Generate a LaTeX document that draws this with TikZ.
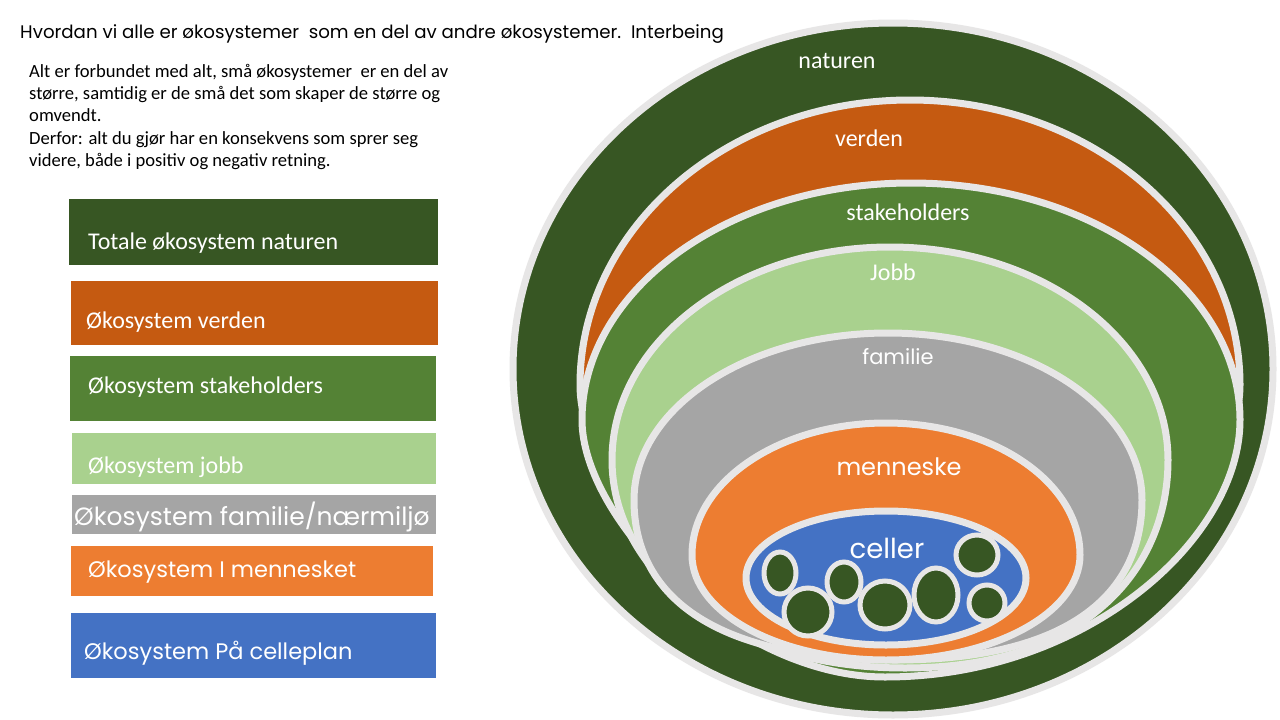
\documentclass[tikz,border=0pt]{standalone}
\usepackage{fontspec}
\setmainfont{Carlito}
\newfontfamily\poppins{Poppins}
\definecolor{natc}{HTML}{375623}
\definecolor{verc}{HTML}{C55A11}
\definecolor{stkc}{HTML}{548235}
\definecolor{jobc}{HTML}{A9D18E}
\definecolor{famc}{HTML}{A5A5A5}
\definecolor{menc}{HTML}{ED7D31}
\definecolor{celc}{HTML}{4472C4}
\definecolor{rimc}{HTML}{E7E6E6}

\begin{document}
\begin{tikzpicture}[x=1pt, y=-1pt,
  ring/.style={draw=rimc, line width=7pt},
  cell/.style={draw=rimc, line width=5pt, fill=natc},
  box/.style={rectangle, inner sep=0pt, anchor=north west},
  boxtext/.style={anchor=base west, inner sep=0pt, text=white, font=\fontsize{24}{28}\selectfont},
  poptext/.style={anchor=base west, inner sep=0pt, text=white, font=\poppins\fontsize{22.5}{26}\selectfont},
  ringtext/.style={anchor=base, inner sep=0pt, text=white, font=\fontsize{24}{28}\selectfont},
  ringpop/.style={anchor=base, inner sep=0pt, text=white, font=\poppins\fontsize{21}{26}\selectfont}]

  \useasboundingbox[fill=white] (0,0) rectangle (1280,720);

  % title and intro
  \node[anchor=base west, inner sep=0pt, font=\poppins\fontsize{18.2}{22}\selectfont] (title) at (20,38)
    {Hvordan vi alle er økosystemer\ \ som en del av andre økosystemer.\ \ Interbeing};
  \node[anchor=north west, inner sep=0pt, align=left, font=\fontsize{18.6}{22.3}\selectfont] (intro) at (29,64)
    {Alt er forbundet med alt, små økosystemer\ \ er en del av\\
     større, samtidig er de små det som skaper de større og\\
     omvendt.\\
     Derfor: alt du gjør har en konsekvens som sprer seg\\
     videre, både i positiv og negativ retning.};

  % legend boxes
  \node[box, fill=natc, minimum width=369, minimum height=66] (bnat) at (69,199) {};
  \node[box, fill=verc, minimum width=367, minimum height=64] (bver) at (71,281) {};
  \node[box, fill=stkc, minimum width=366, minimum height=65] (bstk) at (70,356) {};
  \node[box, fill=jobc, minimum width=364, minimum height=51] (bjob) at (72,433) {};
  \node[box, fill=famc, minimum width=364, minimum height=39] (bfam) at (72,495) {};
  \node[box, fill=menc, minimum width=362, minimum height=50] (bmen) at (71,546) {};
  \node[box, fill=celc, minimum width=365, minimum height=65] (bcel) at (71,613) {};

  \node[boxtext] (tnat) at (88,249) {Totale økosystem naturen};
  \node[boxtext] (tver) at (86,328) {Økosystem verden};
  \node[boxtext] (tstk) at (88,393) {Økosystem stakeholders};
  \node[boxtext] (tjob) at (88,473) {Økosystem jobb};
  \node[poptext, font=\poppins\fontsize{25}{28}\selectfont] (tfam) at (74,525) {Økosystem familie/nærmiljø};
  \node[poptext] (tmen) at (88,577) {Økosystem I mennesket};
  \node[poptext] (tcel) at (84,659) {Økosystem På celleplan};

  % nested ecosystems
  \path[ring, fill=natc] (893,369) ellipse[x radius=380, y radius=346];
  \path[ring, fill=verc] (580,385) arc[start angle=180, end angle=360, x radius=330, y radius=285]
    .. controls (1240,500) and (1060,640) .. (905,640)
    .. controls (750,640) and (580,500) .. (580,385) -- cycle;
  \path[ring, fill=stkc] (582,420) arc[start angle=180, end angle=360, x radius=329, y radius=237]
    .. controls (1240,540) and (1085,677) .. (885,677)
    .. controls (735,677) and (582,520) .. (582,420) -- cycle;
  \path[ring, fill=jobc] (612,460) arc[start angle=180, end angle=360, x radius=278, y radius=213]
    .. controls (1168,570) and (1085,668) .. (905,668)
    .. controls (725,668) and (612,570) .. (612,460) -- cycle;
  \path[ring, fill=famc] (634,500) arc[start angle=180, end angle=360, x radius=254, y radius=167]
    .. controls (1142,600) and (1060,660) .. (895,660)
    .. controls (720,660) and (634,600) .. (634,500) -- cycle;
  \path[ring, fill=menc] (692,555) arc[start angle=180, end angle=360, x radius=194, y radius=132]
    arc[start angle=0, end angle=180, x radius=194, y radius=105] -- cycle;
  \path[ring, fill=celc] (886,578) ellipse[x radius=140, y radius=67];

  \node[ringtext] (lnat) at (837,68) {naturen};
  \node[ringtext] (lver) at (869,146) {verden};
  \node[ringtext] (lstk) at (908,220) {stakeholders};
  \node[ringtext] (ljob) at (893,280) {Jobb};
  \node[ringpop] (lfam) at (898,364) {familie};
  \node[ringpop, font=\poppins\fontsize{24}{28}\selectfont] (lmen) at (899,475) {menneske};
  \node[ringpop, font=\poppins\fontsize{27.5}{32}\selectfont] (lcel) at (887,558) {celler};

  % cells
  \path[cell] (780,573) ellipse[x radius=16, y radius=21];
  \path[cell] (808,612) ellipse[x radius=24, y radius=24];
  \path[cell] (844,582) ellipse[x radius=17, y radius=20];
  \path[cell] (885,605) ellipse[x radius=25, y radius=24];
  \path[cell] (936,595) ellipse[x radius=22, y radius=27];
  \path[cell] (977,555) ellipse[x radius=21, y radius=20];
  \path[cell] (987,603) ellipse[x radius=18, y radius=18];

\end{tikzpicture}
\end{document}
